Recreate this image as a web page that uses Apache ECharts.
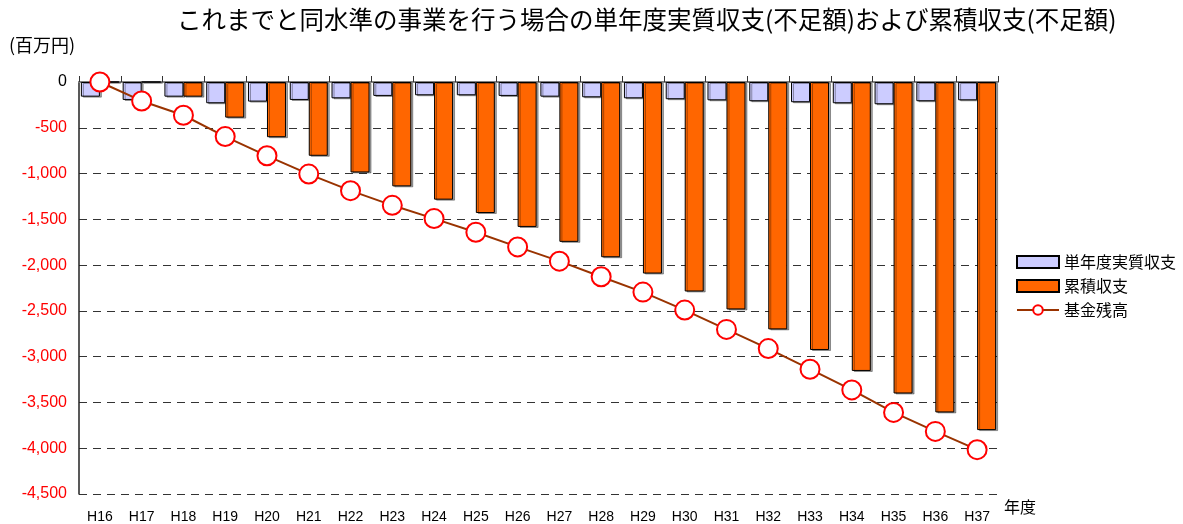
<!DOCTYPE html>
<html>
<head>
<meta charset="utf-8">
<script src="https://cdn.jsdelivr.net/npm/echarts@6/dist/echarts.min.js"></script>
<style>html,body{margin:0;padding:0;background:#fff;}#c{width:1183px;height:524px;}</style>
</head>
<body>
<div id="c"></div>
<script>
const categories = ['H16','H17','H18','H19','H20','H21','H22','H23','H24','H25','H26','H27','H28','H29','H30','H31','H32','H33','H34','H35','H36','H37'];
const singleYear = [-160,-196,-160,-232,-214,-196,-178,-152,-145,-145,-152,-160,-167,-178,-188,-200,-210,-221,-232,-243,-210,-200];
const cumulative = [0,0,-160,-389,-603,-806,-988,-1140,-1285,-1431,-1583,-1746,-1914,-2092,-2288,-2484,-2702,-2927,-3156,-3402,-3609,-3802];
const fundBalance = [0,-207,-363,-596,-806,-1006,-1187,-1347,-1492,-1641,-1801,-1957,-2127,-2295,-2491,-2702,-2912,-3137,-3363,-3609,-3816,-4016];
const seriesNames = ['単年度実質収支','累積収支','基金残高'];
const titleText = 'これまでと同水準の事業を行う場合の単年度実質収支(不足額)および累積収支(不足額)';
const yUnit = '(百万円)';
const xUnit = '年度';

const font = '"Liberation Sans", Arial, sans-serif';
const jp = '"Noto Sans CJK JP", sans-serif';
const yBase = {
  type: 'value', min: -4500, max: 0, interval: 500, position: 'left'
};
const chart = echarts.init(document.getElementById('c'));
chart.setOption({
  animation: false,
  backgroundColor: '#fff',
  title: {
    text: titleText,
    left: 172, top: 2,
    textStyle: { fontFamily: jp, fontSize: 24.5, fontWeight: 'normal', color: '#000' }
  },
  graphic: [
    { type: 'text', left: 9, top: 36, style: { text: yUnit, fontFamily: jp, fontSize: 18, fill: '#000' } },
    { type: 'text', left: 1004, top: 499, style: { text: xUnit, fontFamily: jp, fontSize: 16, fill: '#000' } }
  ],
  legend: {
    orient: 'vertical',
    left: 1011, top: 249,
    itemWidth: 42, itemHeight: 12, itemGap: 8,
    textStyle: { fontFamily: jp, fontSize: 16, color: '#000', lineHeight: 16 },
    data: [
      { name: seriesNames[0], icon: 'rect' },
      { name: seriesNames[1], icon: 'rect' },
      { name: seriesNames[2] }
    ]
  },
  grid: { left: 79, right: 185, top: 82, bottom: 29 },
  xAxis: [
    {
      type: 'category', data: categories, position: 'bottom',
      axisLine: { onZero: true, lineStyle: { color: '#808080', width: 2 } },
      axisTick: { show: true, inside: true, length: 6, lineStyle: { color: '#333' } },
      axisLabel: { show: false }
    },
    {
      type: 'category', data: categories, position: 'bottom',
      axisLine: { show: false, onZero: false },
      axisTick: { show: false },
      axisLabel: { fontFamily: font, fontSize: 14, color: '#000', margin: 16 }
    }
  ],
  yAxis: [
    Object.assign({}, yBase, {
      axisLine: { show: true, lineStyle: { color: '#222', width: 1.5 } },
      axisTick: { show: false },
      splitLine: { show: true, lineStyle: { color: '#333', type: [8, 6], width: 1 } },
      axisLabel: {
        margin: 12, fontFamily: font, fontSize: 16, color: '#ff0000',
        formatter: v => (Number(v) === 0 ? '' : Number(v).toLocaleString('en-US'))
      }
    }),
    Object.assign({}, yBase, {
      axisLine: { show: false },
      axisTick: { show: false },
      splitLine: { show: false },
      axisLabel: {
        margin: 12, fontFamily: font, fontSize: 16, color: '#000000',
        formatter: v => (Number(v) === 0 ? '0' : '')
      }
    })
  ],
  series: [
    {
      name: seriesNames[0], type: 'bar', data: singleYear, barWidth: 19, barGap: '0%',
      itemStyle: { color: '#ccccff', borderColor: '#000', borderWidth: 1,
        shadowColor: 'rgba(0,0,0,0.35)', shadowOffsetX: 2, shadowOffsetY: 1 }
    },
    {
      name: seriesNames[1], type: 'bar', data: cumulative, barWidth: 19, barGap: '0%',
      itemStyle: { color: '#ff6600', borderColor: '#000', borderWidth: 1,
        shadowColor: 'rgba(0,0,0,0.35)', shadowOffsetX: 2, shadowOffsetY: 1 }
    },
    {
      name: seriesNames[2], type: 'line', data: fundBalance,
      symbol: 'circle', symbolSize: 19,
      lineStyle: { color: '#993300', width: 2 },
      itemStyle: { color: '#fff', borderColor: '#ff0000', borderWidth: 2 },
      z: 5
    }
  ]
});
</script>
</body>
</html>
